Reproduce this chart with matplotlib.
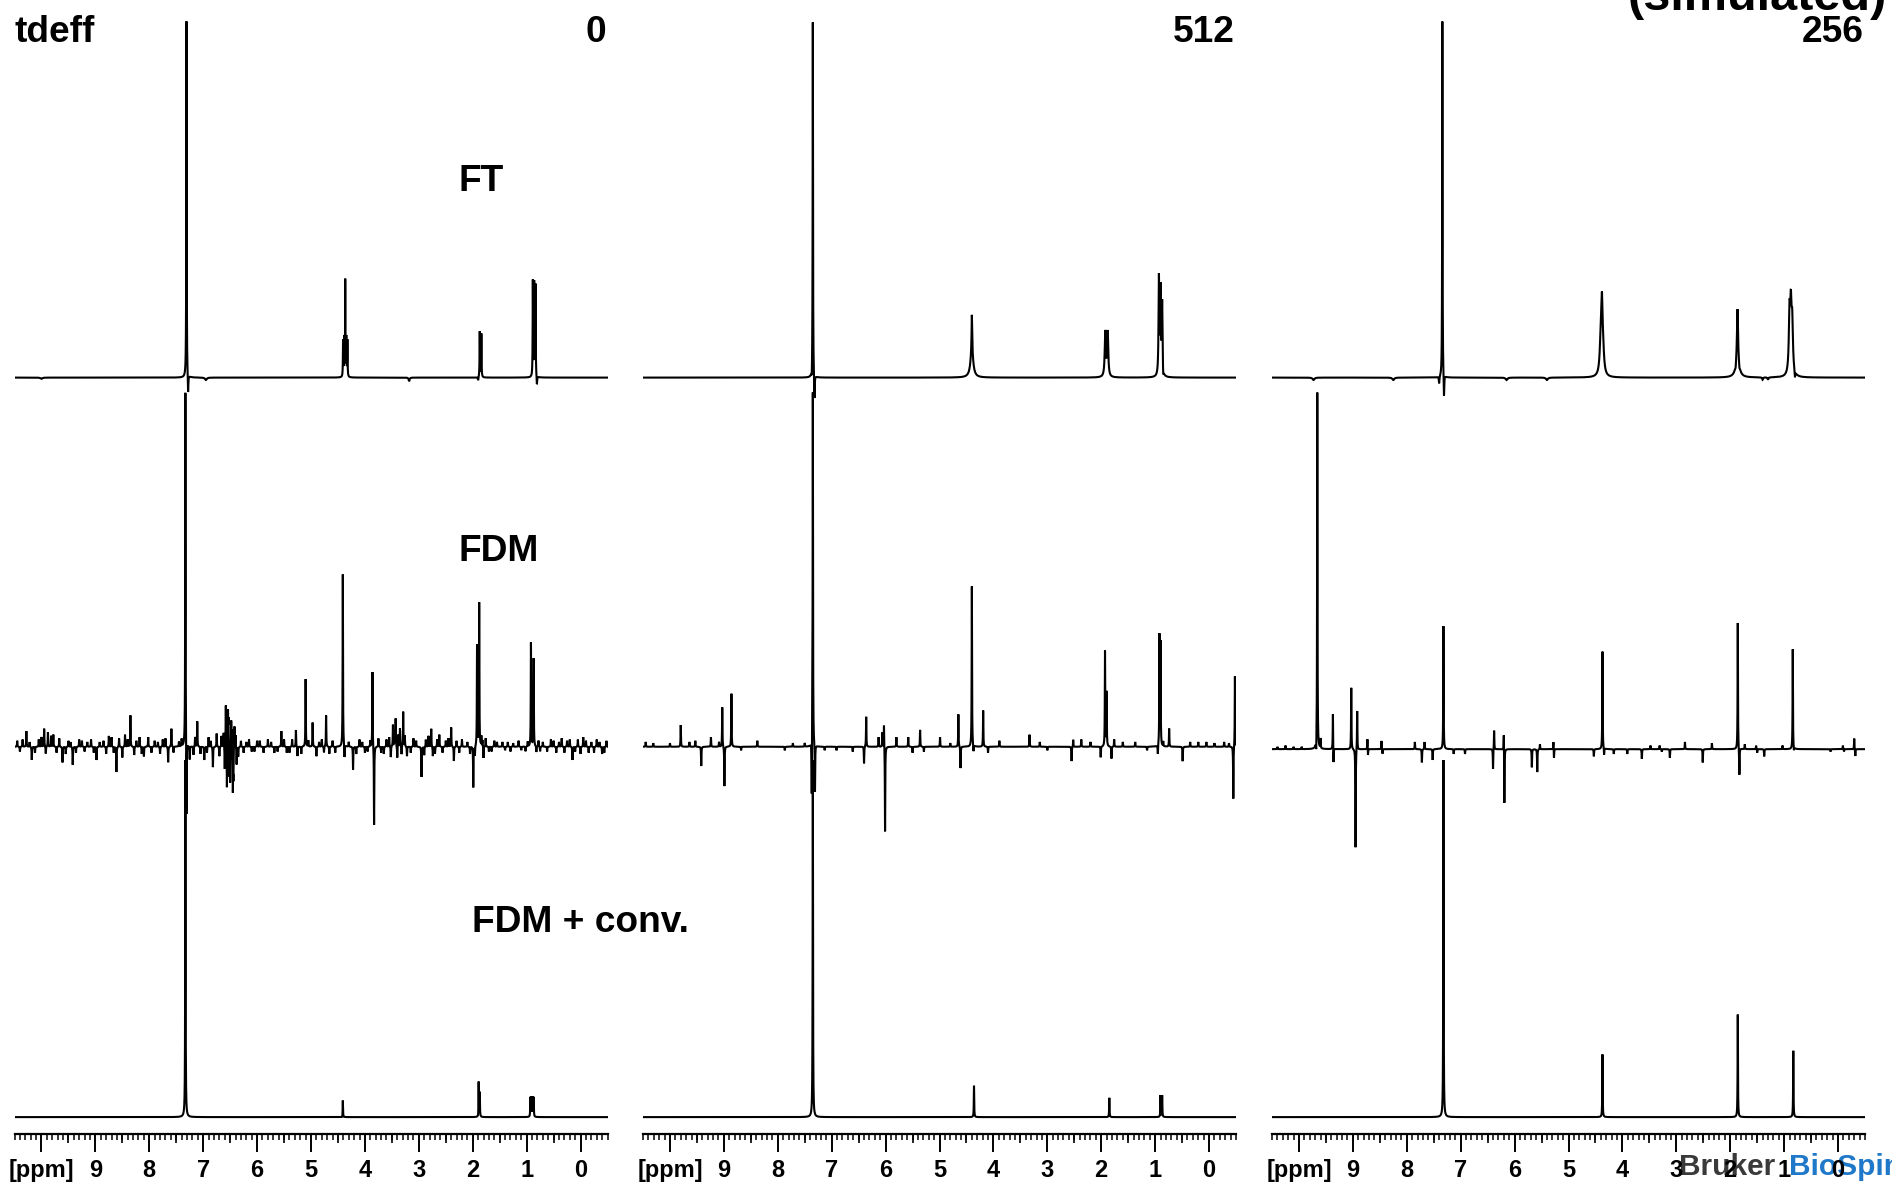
import matplotlib
matplotlib.use("Agg")
import matplotlib.pyplot as plt
import numpy as np
from matplotlib.ticker import MultipleLocator, FuncFormatter

# chemical shift grid (ppm), spectra drawn right-to-left
PPM = np.linspace(10.5, -0.5, 11001)

# column titles (tdeff values)
TDEFF = ["0", "512", "256"]
ROW_LABELS = ["FT", "FDM", "FDM + conv."]

# vertical offsets of the three traces in every column (plot units)
OFFSETS = [[627, 321, 14], [627, 321, 14], [627, 319, 14]]

# ---- tdeff = 0 -------------------------------------------------------
FT0_PPM = [10.0, 7.31, 7.28, 6.95, 4.405, 4.385, 4.365, 4.345, 4.325, 3.18,
           1.90, 1.87, 1.84, 0.885, 0.86, 0.835, 0.81]
FT0_AMP = [-1, 296, -17, -2, 30, 32, 79, 32, 30, -3,
           -3, 38, 36, 79, 77, 76, -8]
FT0_HW = [0.02, 0.004, 0.006, 0.02, 0.004, 0.004, 0.003, 0.004, 0.004, 0.01,
          0.006, 0.004, 0.004, 0.004, 0.004, 0.004, 0.006]

FDM0_PPM = [7.33, 7.31, 5.10, 4.41, 3.86, 3.83, 1.92, 1.88, 0.92, 0.87,
            10.45, 10.28, 10.18, 10.05, 9.95, 9.88, 9.82, 9.61, 9.50, 9.42,
            9.30, 9.15, 8.98, 8.85, 8.70, 8.61, 8.56, 8.45, 8.35, 8.28,
            8.18, 8.10, 8.02, 7.90, 7.75, 7.65, 7.59, 7.45, 7.25, 7.11,
            7.05, 6.98, 6.90, 6.82, 6.75, 6.62, 6.58, 6.56, 6.53, 6.50,
            6.48, 6.45, 6.42, 6.38, 6.30, 6.15, 6.05, 5.95, 5.80, 5.68,
            5.55, 5.45, 5.35, 5.28, 5.25, 4.97, 4.90, 4.80, 4.72, 4.66,
            4.38, 4.22, 4.10, 4.00, 3.75, 3.65, 3.55, 3.48, 3.43, 3.40,
            3.35, 3.29, 3.22, 3.10, 2.95, 2.87, 2.77, 2.70, 2.62, 2.50,
            2.40, 2.35, 2.20, 1.99, 1.84, 1.80, 1.76, 1.70, 1.60, 1.45,
            1.30, 1.15, 1.02, 0.82, 0.70, 0.55, 0.45, 0.35, 0.25, 0.15,
            0.05, -0.05, -0.15, -0.30, -0.40, -0.48]
FDM0_AMP = [296, -67, 56, 143, 63, -66, 84, 119, 86, 73,
            5, 13, -11, 6, 15, 12, 9, -13, 5, -15,
            6, 4, -11, 5, 8, -21, 7, 10, 26, -7,
            8, -8, 8, 5, 6, -13, 15, 4, -11, 21,
            -6, -11, 8, -17, 11, 12, 36, -36, 25, -30,
            23, -38, 18, -15, 5, 6, -4, 5, 6, -5,
            13, -5, 6, 14, -8, 20, -8, 6, 26, -6,
            -11, -19, 6, -5, 7, -6, 8, 18, 23, -10,
            15, 29, -8, 7, -25, 6, 15, -6, 10, 5,
            16, -12, 6, -34, 8, -10, 7, -4, 5, 4,
            -4, 5, -4, -5, 4, 6, -5, 7, 5, -11,
            6, 8, -5, 6, -6, 5]

# low-level ripple on the tdeff = 0 FDM trace
FDM0_RIPPLE_PPM = [10.40, 10.35, 10.22, 10.12, 10.00, 9.92, 9.78, 9.72, 9.67, 9.55,
                   9.46, 9.36, 9.25, 9.20, 9.08, 9.03, 8.92, 8.80, 8.75, 8.66,
                   8.50, 8.40, 8.24, 8.14, 7.96, 7.84, 7.80, 7.70, 7.55, 7.40,
                   7.18, 7.15, 6.93, 6.86, 6.70, 6.66, 6.60, 6.54, 6.52, 6.46,
                   6.44, 6.40, 6.35, 6.25, 6.20, 6.10, 6.00, 5.88, 5.74, 5.62,
                   5.50, 5.40, 5.18, 5.05, 4.85, 4.76, 4.60, 4.55, 4.30, 4.16,
                   4.05, 3.95, 3.90, 3.70, 3.60, 3.52, 3.45, 3.38, 3.32, 3.26,
                   3.15, 3.05, 2.90, 2.82, 2.74, 2.66, 2.56, 2.45, 2.30, 2.25,
                   2.10, 2.05, 1.96, 1.82, 1.65, 1.55, 1.40, 1.35, 1.25, 1.10,
                   0.98, 0.78, 0.75, 0.62, 0.50, 0.40, 0.30, 0.20, 0.10, 0.00,
                   -0.10, -0.20, -0.25, -0.35, -0.44]
FDM0_RIPPLE_AMP = [-4, 6, 4, -5, 8, -6, 10, -5, 7, -6,
                   4, -5, 5, -4, 6, -5, 4, -6, 9, -5,
                   -9, 6, 5, -6, -5, 4, -6, 7, -5, 6,
                   -7, 8, -5, 5, -8, 9, -20, 30, -28, 20,
                   -25, 10, -8, -5, 4, -4, 5, -5, 4, -4,
                   6, -5, -6, 5, 4, -5, 5, -5, 4, -6,
                   4, -4, 5, -5, 6, -9, 12, 10, -7, 9,
                   -5, 5, -7, 9, -8, 6, -5, 7, 5, -5,
                   4, -6, -8, 5, -4, 4, -3, 4, 3, -3,
                   4, 5, -4, -4, 5, 4, -5, 6, -4, -6,
                   5, 4, -5, 4, -5]

CONV0_PPM = [7.33, 4.41, 4.42, 1.89, 1.87, 1.90, 0.93, 0.91, 0.89, 0.87]
CONV0_AMP = [296, 14, -2, 29, 20, -2, 16, 16, 16, 16]

# ---- tdeff = 512 -----------------------------------------------------
FT1_PPM = [7.35, 7.32, 7.37, 4.40, 4.40, 1.925, 1.88, 0.93, 0.90, 0.87, 0.85]
FT1_AMP = [296, -22, -8, 30, 22, 37, 37, 81, 70, 60, -7]
FT1_HW = [0.004, 0.006, 0.006, 0.006, 0.03, 0.012, 0.012, 0.008, 0.008, 0.008, 0.008]

FDM1_PPM = [7.35, 7.37, 7.31, 6.01, 4.40, 1.93, 1.90, 0.92, 0.90, -0.45, -0.48,
            10.45, 10.31, 10.0, 9.80, 9.64, 9.53, 9.42, 9.24, 9.09, 9.03,
            8.99, 8.86, 8.68, 8.38, 7.87, 7.72, 7.50, 7.13, 6.91, 6.61,
            6.40, 6.36, 6.13, 6.06, 6.03, 5.80, 5.58, 5.50, 5.36, 5.29,
            4.99, 4.80, 4.65, 4.61, 4.37, 4.19, 4.10, 3.89, 3.33, 3.14,
            3.00, 2.55, 2.52, 2.37, 2.20, 2.01, 1.81, 1.76, 1.60, 1.37,
            1.15, 0.95, 0.85, 0.74, 0.49, 0.35, 0.20, 0.05, -0.10, -0.28, -0.37]
FDM1_AMP = [296, -50, -40, -71, 133, 79, 45, 91, 85, -44, 59,
            4, 3, 3, 18, 4, 5, -16, 8, 4, 33,
            -33, 44, -3, 5, -3, 3, 3, -3, -3, -4,
            -14, 25, 8, 12, 20, 8, 8, -5, 14, -4,
            8, 3, 27, -18, -6, 30, -5, 5, 10, 4,
            -3, -12, 6, 6, 4, -9, -10, 6, 4, 4,
            -3, -8, 4, 15, -12, 4, 4, 4, 3, 4, 3]

CONV1_PPM = [7.35, 4.36, 1.85, 0.90, 0.87]
CONV1_AMP = [296, 26, 16, 18, 18]

# ---- tdeff = 256 (simulated) ------------------------------------------
FT2_PPM = [9.73, 8.25, 7.34, 7.31, 7.40, 6.15, 5.40, 4.40, 4.38, 4.36,
           1.865, 1.865, 1.90, 1.83, 1.40, 1.30, 0.90, 0.875, 0.85, 0.80]
FT2_AMP = [-2, -2, 296, -20, -6, -2, -2, 30, 45, 18,
           45, 12, -3, -3, -2, -2, 48, 50, 40, -6]
FT2_HW = [0.02, 0.02, 0.004, 0.006, 0.006, 0.02, 0.02, 0.022, 0.014, 0.022,
          0.012, 0.04, 0.008, 0.008, 0.01, 0.01, 0.015, 0.015, 0.015, 0.006]

FDM2_PPM = [9.66, 9.68, 9.60, 9.37, 9.36, 9.03, 8.95, 8.92, 7.32, 6.38,
            6.40, 6.20, 6.19, 5.68, 5.58, 5.28, 5.27, 4.37, 1.86, 1.83, 0.84,
            10.40, 10.25, 10.10, 9.95, 8.73, 8.72, 8.47, 8.45, 7.85, 7.72,
            7.67, 7.52, 7.13, 6.92, 5.53, 4.53, 4.34, 4.16, 3.91, 3.64,
            3.48, 3.31, 3.27, 3.12, 2.84, 2.51, 2.34, 1.73, 1.52, 1.50,
            1.37, 1.03, 0.82, 0.14, -0.09, -0.11, -0.30, -0.32]
FDM2_AMP = [296, -11, 8, 31, -15, 51, -82, 33, 102, 16,
            -17, 18, -47, -15, -19, 7, -8, 81, 105, -23, 83,
            2, 3, 2, 2, 9, -6, 7, -4, 6, -11,
            6, -9, -4, -4, 4, -6, -6, -4, -4, -8,
            3, 3, -2, -7, 6, -11, 5, 4, 3, -3,
            -6, 3, -4, -2, 3, -2, 9, -6]

CONV2_PPM = [7.32, 4.37, 1.86, 0.83]
CONV2_AMP = [296, 52, 85, 55]


def spectrum(ppm, amp, hw=None):
    if hw is None:
        hw = [0.004] * len(ppm)
    y = np.zeros_like(PPM)
    for p, a, w in zip(ppm, amp, hw):
        y += a / (1.0 + ((PPM - p) / w) ** 2)
    return y


fdm0 = spectrum(FDM0_PPM, FDM0_AMP) + spectrum(FDM0_RIPPLE_PPM, FDM0_RIPPLE_AMP)

columns = [
    [spectrum(FT0_PPM, FT0_AMP, FT0_HW), fdm0, spectrum(CONV0_PPM, CONV0_AMP)],
    [spectrum(FT1_PPM, FT1_AMP, FT1_HW), spectrum(FDM1_PPM, FDM1_AMP), spectrum(CONV1_PPM, CONV1_AMP)],
    [spectrum(FT2_PPM, FT2_AMP, FT2_HW), spectrum(FDM2_PPM, FDM2_AMP), spectrum(CONV2_PPM, CONV2_AMP)],
]

W, H = 1892, 1183
fig = plt.figure(figsize=(W / 100, H / 100), dpi=100)

bold = dict(family=["Liberation Sans", "DejaVu Sans"], weight="bold")
narrow = ["Liberation Sans Narrow", "Liberation Sans", "DejaVu Sans"]

lefts = [14.5, 643, 1272]
ax_w = 593
ax_bottom = (H - 1134) / H

for i, (x0, traces) in enumerate(zip(lefts, columns)):
    ax = fig.add_axes([x0 / W, ax_bottom, ax_w / W, 1 - ax_bottom])
    ax.patch.set_visible(False)
    for off, tr in zip(OFFSETS[i], traces):
        ax.plot(PPM, tr + off, color="black", lw=1.5, solid_joinstyle="miter")
    ax.set_xlim(10.5, -0.5)
    ax.set_ylim(0, 940)

    for s in ("top", "left", "right"):
        ax.spines[s].set_visible(False)
    ax.spines["bottom"].set_linewidth(1.6)
    ax.set_yticks([])

    ax.xaxis.set_major_locator(MultipleLocator(1))
    ax.xaxis.set_minor_locator(MultipleLocator(0.1))
    ax.xaxis.set_major_formatter(FuncFormatter(
        lambda v, pos: "[ppm]" if abs(v - 10) < 1e-6 else "%d" % round(abs(v))))
    ax.tick_params(axis="x", which="major", length=13, width=1.4, pad=5,
                   labelsize=17)
    ax.tick_params(axis="x", which="minor", length=4, width=1.1)
    for lab in ax.get_xticklabels():
        lab.set_family(narrow)
        lab.set_weight("bold")

    # half-ppm marks
    sec = ax.secondary_xaxis("bottom")
    sec.set_xticks(np.arange(0.5, 10.5, 1.0))
    sec.tick_params(length=6.5, width=1.2, labelbottom=False)
    sec.spines["bottom"].set_visible(False)

    # tdeff value above each column
    fig.text((x0 + ax_w - 1) / W, 1 - 42 / H, TDEFF[i], ha="right",
             va="baseline", fontsize=26.7, **bold)

fig.text(14 / W, 1 - 42 / H, "tdeff", ha="left", va="baseline", fontsize=26.7, **bold)
fig.text(1628 / W, 1 - 10 / H, "(simulated)", ha="left", va="baseline",
         fontsize=35, **bold)

# row labels in the first column
fig.text(458 / W, 1 - 191 / H, ROW_LABELS[0], ha="left", va="baseline", fontsize=26.7, **bold)
fig.text(458 / W, 1 - 561 / H, ROW_LABELS[1], ha="left", va="baseline", fontsize=26.7, **bold)
fig.text(472 / W, 1 - 932 / H, ROW_LABELS[2], ha="left", va="baseline", fontsize=26.7, **bold)

# company logo behind the last ruler
fig.text(1679 / W, 8 / H, "Bruker", ha="left", va="baseline", fontsize=21.5,
         color="#3a3a3a", zorder=-1, **bold)
fig.text(1789 / W, 8 / H, "BioSpin", ha="left", va="baseline", fontsize=21.5,
         color="#1f78c8", zorder=-1, **bold)

fig.savefig("out.png", dpi=100, facecolor="white")
